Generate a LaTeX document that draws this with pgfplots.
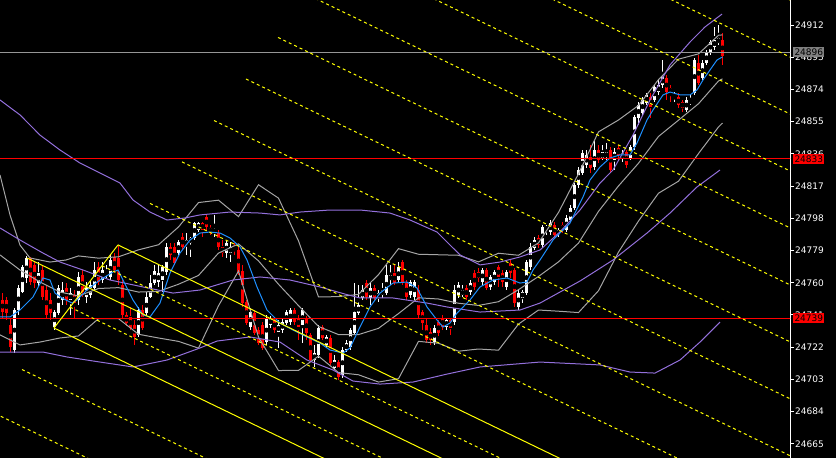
\documentclass[border=0pt]{standalone}
\usepackage{pgfplots}
\pgfplotsset{compat=1.18}
\usepackage{pgfplotstable}
\usepackage{fontspec}
\setmainfont{DejaVu Sans}
\definecolor{mtgray}{RGB}{165,165,165}
\definecolor{mtpurple}{RGB}{147,112,219}
\definecolor{mtblue}{RGB}{30,144,255}
\definecolor{mtyellow}{RGB}{255,255,0}
\definecolor{boxgray}{RGB}{128,128,128}
\definecolor{hlgray}{RGB}{150,150,150}

\pgfplotstableread{
i o h l c
0 24749.8 24753.9 24739.2 24742.7
1 24749.8 24751.6 24738.0 24742.1
2 24735.1 24739.2 24719.1 24722.1
3 24720.3 24745.1 24718.5 24743.9
4 24743.9 24758.7 24741.0 24756.9
5 24754.5 24770.5 24753.9 24769.3
6 24762.8 24775.8 24759.8 24774.6
7 24774.6 24775.2 24758.7 24760.4
8 24770.5 24772.2 24756.9 24759.8
9 24759.8 24772.2 24757.5 24765.7
10 24767.5 24770.5 24749.8 24751.6
11 24755.7 24758.7 24739.2 24741.0
12 24749.8 24753.9 24738.0 24742.1
13 24733.9 24743.9 24732.1 24742.7
14 24742.1 24758.7 24741.0 24756.9
15 24749.8 24760.4 24746.9 24755.7
16 24756.9 24759.8 24746.9 24749.8
17 24749.8 24756.9 24741.0 24753.9
18 24752.8 24755.7 24739.2 24748.0
19 24749.8 24766.3 24746.9 24763.4
20 24764.5 24767.5 24751.6 24754.5
21 24751.6 24760.4 24748.0 24756.9
22 24752.8 24761.6 24751.0 24758.7
23 24756.9 24772.2 24755.7 24767.5
24 24769.3 24772.2 24758.7 24760.4
25 24761.6 24772.2 24759.8 24767.5
26 24764.5 24770.5 24762.8 24766.9
27 24763.4 24776.3 24761.6 24773.4
28 24775.2 24777.5 24765.7 24767.5
29 24774.6 24781.7 24758.7 24761.6
30 24758.7 24761.6 24739.2 24741.0
31 24741.0 24742.7 24734.5 24736.2
32 24739.8 24745.7 24732.1 24733.3
33 24735.1 24738.0 24723.3 24728.0
34 24729.2 24745.7 24728.0 24743.9
35 24743.9 24746.9 24732.1 24733.3
36 24742.1 24754.5 24740.4 24751.6
37 24751.6 24764.5 24751.0 24759.8
38 24759.8 24770.5 24758.7 24766.9
39 24760.4 24770.5 24757.5 24765.7
40 24761.6 24770.5 24754.5 24769.3
41 24766.3 24783.4 24764.5 24781.1
42 24781.1 24783.4 24773.4 24776.3
43 24781.1 24783.4 24770.5 24771.6
44 24777.5 24785.2 24776.3 24784.0
45 24787.0 24789.3 24779.3 24781.1
46 24782.3 24789.3 24776.3 24785.2
47 24783.4 24787.0 24775.2 24786.4
48 24786.4 24795.8 24785.2 24795.2
49 24791.1 24795.8 24789.9 24795.2
50 24795.2 24795.8 24787.0 24791.1
51 24798.8 24800.0 24791.1 24792.9
52 24792.3 24794.1 24788.2 24789.3
53 24789.3 24800.0 24787.0 24791.1
54 24789.3 24791.1 24779.3 24781.1
55 24781.1 24785.2 24775.2 24777.5
56 24777.5 24785.2 24774.6 24783.4
57 24777.5 24784.0 24772.2 24781.1
58 24782.3 24783.4 24776.3 24779.3
59 24779.3 24782.3 24764.5 24766.3
60 24766.9 24770.5 24745.7 24748.0
61 24748.6 24749.8 24735.1 24736.2
62 24733.9 24745.1 24732.1 24742.7
63 24742.1 24743.9 24729.2 24730.3
64 24732.1 24733.9 24723.3 24724.4
65 24735.1 24736.8 24720.3 24721.5
66 24725.0 24741.0 24723.3 24739.2
67 24735.1 24740.4 24733.3 24739.2
68 24738.0 24739.8 24730.3 24732.1
69 24730.9 24738.0 24721.5 24735.1
70 24732.1 24739.2 24730.3 24736.8
71 24736.2 24743.9 24735.1 24742.7
72 24736.8 24745.1 24735.1 24743.9
73 24743.9 24745.1 24735.1 24736.8
74 24739.2 24741.0 24726.2 24733.9
75 24735.1 24745.1 24724.4 24743.9
76 24739.2 24740.4 24726.2 24730.3
77 24729.2 24730.3 24713.2 24714.4
78 24714.4 24723.3 24710.3 24718.5
79 24717.4 24735.1 24715.6 24733.3
80 24733.9 24735.1 24726.2 24727.4
81 24723.3 24729.2 24721.5 24728.0
82 24727.4 24729.2 24711.4 24712.6
83 24709.7 24717.4 24708.5 24714.4
84 24713.2 24714.4 24702.6 24704.4
85 24705.6 24722.1 24703.8 24720.3
86 24720.3 24726.2 24719.1 24724.4
87 24722.1 24733.3 24720.3 24732.1
88 24730.3 24759.8 24729.2 24742.7
89 24742.1 24758.7 24741.0 24746.9
90 24751.0 24758.7 24749.8 24755.7
91 24759.8 24761.6 24749.8 24751.6
92 24751.0 24759.8 24746.9 24756.9
93 24756.9 24758.7 24749.8 24751.0
94 24751.0 24755.7 24748.6 24753.9
95 24752.8 24759.8 24751.0 24755.7
96 24753.9 24770.5 24752.8 24764.5
97 24761.6 24770.5 24758.7 24764.5
98 24765.7 24770.5 24758.7 24759.8
99 24761.6 24772.2 24759.8 24769.3
100 24772.2 24773.4 24758.7 24759.8
101 24759.8 24761.6 24749.8 24751.6
102 24752.8 24761.6 24751.0 24760.4
103 24751.6 24761.6 24749.8 24760.4
104 24755.7 24758.7 24739.2 24741.0
105 24742.7 24743.9 24732.1 24736.2
106 24735.1 24739.2 24724.4 24726.2
107 24730.9 24733.3 24723.3 24726.2
108 24725.0 24735.1 24723.3 24733.3
109 24736.8 24738.0 24728.6 24730.3
110 24739.2 24741.0 24732.1 24733.9
111 24733.9 24739.2 24732.1 24738.0
112 24738.0 24739.2 24729.2 24733.3
113 24736.8 24758.7 24735.1 24755.7
114 24752.8 24760.4 24751.0 24758.7
115 24752.8 24758.7 24751.6 24755.7
116 24756.9 24758.7 24749.8 24751.6
117 24754.5 24761.6 24752.8 24759.8
118 24765.7 24767.5 24755.7 24757.5
119 24766.3 24768.7 24760.4 24762.8
120 24760.4 24768.7 24758.7 24767.5
121 24767.5 24768.7 24755.7 24756.9
122 24757.5 24764.5 24755.7 24763.4
123 24760.4 24767.5 24758.7 24766.3
124 24769.3 24770.5 24757.5 24763.4
125 24765.7 24767.5 24757.5 24760.4
126 24757.5 24767.5 24755.7 24766.3
127 24771.6 24773.4 24762.8 24765.7
128 24767.5 24768.7 24745.7 24748.0
129 24745.7 24755.7 24743.9 24753.9
130 24751.0 24755.7 24748.0 24754.5
131 24753.9 24773.4 24752.8 24772.2
132 24769.3 24783.4 24767.5 24781.1
133 24780.5 24787.0 24779.3 24785.2
134 24786.4 24788.2 24780.5 24782.3
135 24782.3 24794.1 24780.5 24792.9
136 24791.1 24794.1 24788.2 24792.9
137 24789.9 24797.0 24788.2 24795.2
138 24794.1 24795.8 24787.0 24788.2
139 24788.2 24792.3 24787.0 24791.1
140 24794.1 24795.8 24789.3 24791.1
141 24791.1 24800.0 24789.9 24798.2
142 24797.0 24805.9 24795.8 24804.1
143 24804.1 24818.8 24802.9 24817.7
144 24817.7 24828.3 24815.9 24826.5
145 24824.7 24838.3 24823.6 24836.5
146 24829.5 24838.3 24827.7 24835.4
147 24834.2 24841.3 24824.7 24827.7
148 24828.3 24844.2 24826.5 24838.3
149 24838.3 24841.3 24830.6 24832.4
150 24833.6 24841.3 24832.4 24837.1
151 24834.2 24842.4 24832.4 24837.1
152 24838.3 24840.1 24825.3 24826.5
153 24832.4 24839.5 24826.5 24837.1
154 24839.5 24841.3 24832.4 24835.4
155 24833.6 24838.3 24831.2 24836.5
156 24837.1 24838.3 24827.7 24829.5
157 24833.6 24841.3 24832.4 24840.1
158 24840.1 24858.9 24838.3 24857.8
159 24857.2 24866.6 24853.0 24864.8
160 24860.1 24869.6 24858.9 24867.8
161 24866.0 24871.9 24864.8 24870.7
162 24869.6 24871.9 24857.2 24863.7
163 24867.8 24876.6 24866.6 24875.5
164 24872.5 24879.6 24870.7 24876.6
165 24876.6 24891.4 24874.9 24881.4
166 24880.8 24882.6 24867.8 24872.5
167 24874.9 24876.6 24866.6 24871.9
168 24869.0 24872.5 24866.6 24870.7
169 24869.6 24871.9 24863.1 24864.8
170 24866.6 24867.8 24860.7 24863.1
171 24861.9 24869.6 24860.7 24867.8
172 24866.0 24870.7 24864.8 24867.8
173 24871.9 24892.6 24870.7 24891.4
174 24889.6 24894.3 24876.6 24877.8
175 24880.8 24891.4 24879.6 24889.6
176 24889.6 24897.3 24888.5 24896.1
177 24896.1 24903.2 24894.3 24902.0
178 24899.1 24910.9 24897.3 24903.2
179 24901.4 24912.1 24900.2 24904.4
180 24903.2 24907.3 24888.5 24894.0
}\candles

\begin{document}
\begin{tikzpicture}
\fill[black] (0,0) rectangle (836pt,458pt);
\useasboundingbox (0,0) rectangle (836pt,458pt);
\begin{axis}[
  at={(0pt,0pt)}, anchor=south west,
  width=790pt, height=458pt, scale only axis,
  xmin=-0.625, xmax=196.875, ymin=24656.6, ymax=24926.8,
  axis x line=none, axis y line=right,
  y axis line style={white,-,line width=1pt},
  scaled y ticks=false,
  ytick={24665,24684,24703,24722,24741,24760,24779,24798,24817,24836,24855,24874,24893,24912},
  yticklabels={24665,24684,24703,24722,24741,24760,24779,24798,24817,24836,24855,24874,24893,24912},
  tick align=outside, major tick length=4pt,
  y tick style={white, line width=1pt},
  yticklabel style={text=white, font=\fontsize{9}{10}\selectfont, anchor=west, inner sep=0pt, xshift=1pt},
  clip mode=individual,
  every axis plot/.append style={line width=1pt},
]
% candles: wicks and bodies
\addplot[only marks, mark=none, restrict expr to domain={\thisrow{c}-\thisrow{o}}{0:1000},
  error bars/.cd, y dir=both, y explicit, error mark=none, error bar style={white, line width=1pt}]
  table[x=i, y expr=(\thisrow{h}+\thisrow{l})/2, y error expr=(\thisrow{h}-\thisrow{l})/2] {\candles};
\addplot[only marks, mark=none, restrict expr to domain={\thisrow{o}-\thisrow{c}}{0.01:1000},
  error bars/.cd, y dir=both, y explicit, error mark=none, error bar style={red, line width=1pt}]
  table[x=i, y expr=(\thisrow{h}+\thisrow{l})/2, y error expr=(\thisrow{h}-\thisrow{l})/2] {\candles};
\addplot[only marks, mark=none, restrict expr to domain={\thisrow{c}-\thisrow{o}}{0:1000},
  error bars/.cd, y dir=both, y explicit, error mark=none, error bar style={white, line width=3pt}]
  table[x=i, y expr=(\thisrow{o}+\thisrow{c})/2, y error expr=(\thisrow{c}-\thisrow{o})/2] {\candles};
\addplot[only marks, mark=none, restrict expr to domain={\thisrow{o}-\thisrow{c}}{0.01:1000},
  error bars/.cd, y dir=both, y explicit, error mark=none, error bar style={red, line width=3pt}]
  table[x=i, y expr=(\thisrow{o}+\thisrow{c})/2, y error expr=(\thisrow{o}-\thisrow{c})/2] {\candles};

% Bollinger (gray)
\addplot[mtgray] coordinates {(-0.625,24823.6) (1.875,24800.0) (4.375,24782.2) (6.875,24774.6) (11.875,24772.2) (15.875,24773.4) (19,24775.8) (24,24774.5) (29,24775.3) (34,24779.4) (39,24782.4) (44,24792.9) (49,24807.3) (54,24808.7) (59,24799.0) (64,24817.8) (69,24809.9) (74,24784.7) (79,24751.6) (84,24751.8) (89,24753.1) (94,24764.8) (99,24780.1) (104,24776.8) (109,24776.5) (114,24776.2) (119,24772.3) (124,24777.4) (129,24776.2) (134,24783.5) (139,24801.5) (144,24824.3) (149,24849.0) (154,24856.0) (159,24864.6) (164,24879.8) (169,24891.9) (174,24895.0) (179,24906.0) (180,24906.2)};
\addplot[mtgray] coordinates {(-0.625,24776.4) (4.375,24767.5) (9.375,24760.4) (14.375,24754.5) (19,24752.2) (24,24756.6) (29,24757.1) (34,24754.5) (39,24754.9) (44,24759.1) (49,24764.3) (54,24777.5) (59,24782.9) (64,24772.9) (69,24759.1) (74,24746.5) (79,24734.2) (84,24729.4) (89,24729.4) (94,24733.1) (99,24741.8) (104,24751.1) (109,24750.4) (114,24747.9) (119,24746.6) (124,24748.8) (129,24755.9) (134,24763.7) (139,24772.3) (144,24783.4) (149,24802.1) (154,24817.1) (159,24830.5) (164,24846.3) (169,24855.9) (174,24865.6) (179,24879.0) (180,24880.3)};
\addplot[mtgray] coordinates {(-0.625,24729.2) (4.375,24723.3) (9.375,24725.0) (14.375,24727.4) (19,24728.6) (24,24738.8) (29,24738.8) (34,24729.6) (39,24727.4) (44,24725.4) (49,24721.4) (54,24746.4) (59,24766.9) (64,24727.9) (69,24708.2) (74,24708.3) (79,24716.7) (84,24707.0) (89,24705.7) (94,24701.4) (99,24703.4) (104,24725.4) (109,24724.3) (114,24719.6) (119,24720.9) (124,24720.2) (129,24735.6) (134,24743.9) (139,24743.2) (144,24742.4) (149,24755.3) (154,24778.1) (159,24796.4) (164,24812.8) (169,24819.9) (174,24836.2) (179,24851.9) (180,24854.2)};

% long bands (purple)
\addplot[mtpurple] coordinates {(-0.625,24867.8) (4.375,24859.0) (9.375,24847.1) (14.375,24838.3) (19.375,24830.6) (24.375,24824.7) (29.375,24818.8) (32.625,24808.8) (36.875,24801.7) (41.125,24797.0) (45.625,24798.2) (49.375,24800.0) (56.875,24801.7) (64.375,24801.1) (69.375,24800.0) (74.375,24801.7) (81.875,24802.9) (89.375,24802.9) (96.875,24801.1) (101.875,24797.0) (108.625,24789.9) (114.375,24776.4) (119.375,24770.5) (124.375,24772.2) (129.375,24775.2) (134.375,24779.3) (139.375,24790.0) (144.375,24802.9) (149.375,24818.8) (152.625,24826.5) (157.625,24847.1) (161.875,24867.8) (166.875,24888.5) (171.875,24902.0) (175.625,24910.9) (179.875,24918.5)};
\addplot[mtpurple] coordinates {(-0.625,24792.3) (4.375,24785.2) (10.125,24777.5) (14.375,24772.2) (20.125,24767.5) (26.875,24761.6) (35.125,24757.5) (42.625,24753.9) (49.375,24755.7) (57.625,24761.6) (64.375,24763.4) (71.875,24761.6) (79.375,24757.5) (85.625,24753.3) (89.375,24751.0) (97.625,24751.0) (106.125,24748.0) (111.125,24745.7) (119.375,24742.7) (129.375,24743.9) (134.375,24748.0) (139.375,24754.5) (144.375,24761.0) (152.625,24773.4) (161.125,24789.3) (166.875,24801.1) (173.625,24816.5) (179.375,24826.5)};
\addplot[mtpurple] coordinates {(-0.625,24719.1) (10.125,24719.1) (16.125,24716.2) (24.375,24713.2) (32.625,24710.3) (41.125,24714.4) (49.375,24721.5) (53.625,24725.6) (61.875,24728.0) (69.375,24725.0) (76.125,24714.4) (82.625,24708.5) (87.625,24702.0) (94.375,24700.2) (102.625,24701.4) (111.125,24706.1) (119.375,24710.3) (134.375,24713.2) (149.375,24711.5) (156.875,24707.3) (163.125,24706.7) (169.375,24714.4) (174.375,24725.0) (179.375,24736.8)};

% moving average (blue)
\addplot[mtblue] coordinates {(-0.625,24739.8) (1.875,24739.8) (4.375,24743.9) (7.625,24751.6) (10.125,24762.8) (11.875,24761.6) (13.125,24753.9) (14.875,24751.0) (17.375,24748.0) (18.625,24749.8) (21.125,24755.7) (24.375,24761.6) (27.625,24766.3) (28.875,24767.5) (30.125,24761.6) (32.625,24749.8) (35.125,24741.0) (36.875,24739.8) (39.375,24748.0) (41.875,24765.7) (44.375,24777.5) (46.875,24785.2) (49.375,24789.3) (51.875,24789.9) (54.375,24789.3) (56.875,24786.4) (59.375,24781.1) (61.125,24773.4) (63.625,24757.5) (66.125,24743.9) (69.375,24736.2) (72.625,24732.1) (76.125,24728.0) (79.375,24724.4) (81.875,24720.3) (85.125,24718.5) (86.875,24721.5) (89.375,24733.9) (91.875,24745.7) (94.375,24753.9) (97.625,24759.8) (101.125,24760.4) (103.625,24756.9) (106.125,24745.7) (108.625,24738.0) (110.125,24733.9) (111.875,24736.2) (113.625,24742.1) (116.875,24749.8) (119.375,24757.5) (122.625,24761.6) (126.125,24762.8) (129.375,24759.8) (131.125,24760.4) (132.625,24767.5) (134.375,24773.4) (137.625,24785.2) (141.875,24795.2) (145.125,24810.6) (146.875,24820.6) (149.375,24828.3) (151.875,24833.6) (154.375,24835.4) (156.875,24835.4) (158.625,24842.4) (161.125,24856.0) (162.625,24861.9) (165.125,24870.8) (166.875,24872.5) (169.375,24870.8) (171.875,24870.8) (173.625,24873.7) (175.125,24879.6) (176.875,24885.5) (178.625,24891.4) (180,24893.2)};

% horizontal price lines
\addplot[hlgray] coordinates {(-1,24896) (197,24896)};
\addplot[red] coordinates {(-1,24833) (197,24833)};
\addplot[red] coordinates {(-1,24739) (197,24739)};

% Andrews pitchfork: solid
\addplot[mtyellow] coordinates {(12.875,24733.3) (28.875,24782.3)};
\addplot[mtyellow] coordinates {(6.125,24774.6) (200,24553.6)};
\addplot[mtyellow] coordinates {(12.875,24733.3) (200,24520.0)};
\addplot[mtyellow] coordinates {(28.875,24782.3) (200,24587.2)};
% pitchfork levels: dashed
\addplot[mtyellow, dash pattern=on 3pt off 3pt] coordinates {(-3.125,24684.3) (200,24452.8)};
\addplot[mtyellow, dash pattern=on 3pt off 3pt] coordinates {(4.875,24708.8) (200,24486.4)};
\addplot[mtyellow, dash pattern=on 3pt off 3pt] coordinates {(16.875,24745.6) (200,24536.8)};
\addplot[mtyellow, dash pattern=on 3pt off 3pt] coordinates {(24.875,24770.0) (200,24570.4)};
\addplot[mtyellow, dash pattern=on 3pt off 3pt] coordinates {(36.875,24806.8) (200,24620.8)};
\addplot[mtyellow, dash pattern=on 3pt off 3pt] coordinates {(44.875,24831.3) (200,24654.4)};
\addplot[mtyellow, dash pattern=on 3pt off 3pt] coordinates {(52.875,24855.7) (200,24688.0)};
\addplot[mtyellow, dash pattern=on 3pt off 3pt] coordinates {(60.875,24880.2) (200,24721.6)};
\addplot[mtyellow, dash pattern=on 3pt off 3pt] coordinates {(68.875,24904.7) (200,24755.2)};
\addplot[mtyellow, dash pattern=on 3pt off 3pt] coordinates {(76.875,24929.2) (200,24788.8)};
\addplot[mtyellow, dash pattern=on 3pt off 3pt] coordinates {(84.875,24953.7) (200,24822.4)};
\addplot[mtyellow, dash pattern=on 3pt off 3pt] coordinates {(92.875,24978.2) (200,24856.0)};
\addplot[mtyellow, dash pattern=on 3pt off 3pt] coordinates {(100.875,25002.6) (200,24889.6)};
\addplot[mtyellow, dash pattern=on 3pt off 3pt] coordinates {(108.875,25027.1) (200,24923.2)};

% price boxes
\node[fill=boxgray, text=black, anchor=west, inner xsep=1.3pt, inner ysep=1.7pt, font=\fontsize{9}{10}\selectfont, xshift=3pt] at (axis cs:196.875,24896) {24896};
\node[fill=red, text=black, anchor=west, inner xsep=1.3pt, inner ysep=1.7pt, font=\fontsize{9}{10}\selectfont, xshift=3pt] at (axis cs:196.875,24833) {24833};
\node[fill=red, text=black, anchor=west, inner xsep=1.3pt, inner ysep=1.7pt, font=\fontsize{9}{10}\selectfont, xshift=3pt] at (axis cs:196.875,24739) {24739};
\end{axis}
\end{tikzpicture}
\end{document}
